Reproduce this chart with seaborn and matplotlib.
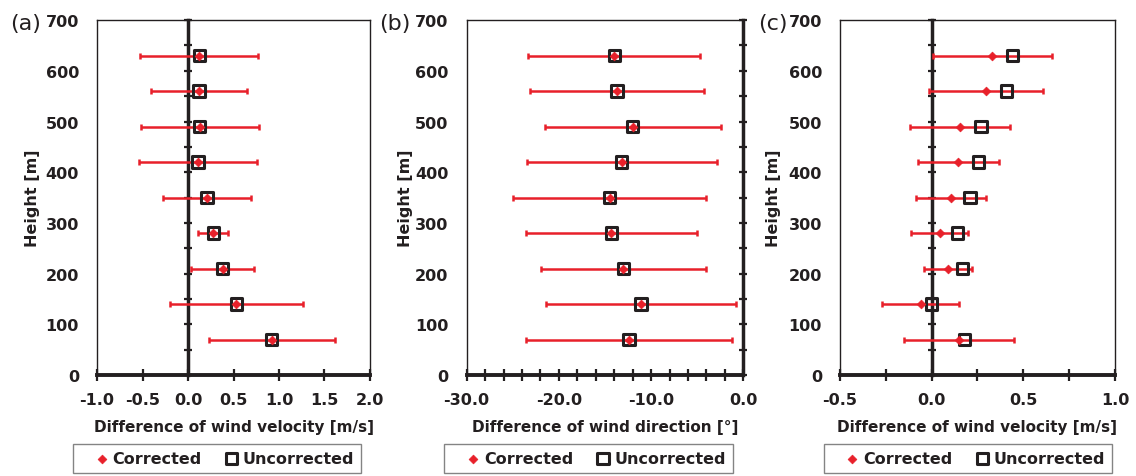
import numpy as np
import matplotlib
matplotlib.use("Agg")
import matplotlib.pyplot as plt
from matplotlib.ticker import MultipleLocator, FormatStrFormatter
import seaborn as sns

heights = [70, 140, 210, 280, 350, 420, 490, 560, 630]

# (a) wind velocity difference [m/s]
corr_a = [0.92, 0.53, 0.38, 0.27, 0.21, 0.11, 0.13, 0.12, 0.12]
uncorr_a = [0.92, 0.53, 0.38, 0.28, 0.21, 0.11, 0.13, 0.12, 0.13]
err_a = [0.69, 0.73, 0.35, 0.165, 0.48, 0.65, 0.65, 0.525, 0.645]

# (b) wind direction difference [deg]
corr_b = [-12.4, -11.1, -13.0, -14.3, -14.5, -13.2, -12.0, -13.7, -14.0]
uncorr_b = [-12.4, -11.1, -13.0, -14.3, -14.5, -13.2, -12.0, -13.7, -14.0]
err_b = [11.15, 10.3, 8.95, 9.3, 10.5, 10.3, 9.55, 9.4, 9.35]

# (c) wind velocity difference [m/s]
corr_c = [0.15, -0.06, 0.09, 0.045, 0.105, 0.145, 0.155, 0.295, 0.33]
uncorr_c = [0.18, 0.0, 0.17, 0.14, 0.21, 0.255, 0.27, 0.41, 0.44]
err_c = [0.30, 0.21, 0.13, 0.155, 0.19, 0.22, 0.275, 0.31, 0.325]

tags = ["(a)", "(b)", "(c)"]
xlabels = ["Difference of wind velocity [m/s]",
           "Difference of wind direction [°]",
           "Difference of wind velocity [m/s]"]
xlims = [(-1.0, 2.0), (-30.0, 0.0), (-0.5, 1.0)]
major_step = [0.5, 10, 0.5]
minor_step = [0.5, 2, 0.25]

INK = "#231f20"
RED = "#e8202a"

sns.set_theme(style="white")
plt.rcParams["font.family"] = ["DejaVu Sans"]
plt.rcParams["font.weight"] = "bold"
plt.rcParams["text.color"] = INK
plt.rcParams["axes.labelcolor"] = INK
plt.rcParams["xtick.color"] = INK
plt.rcParams["ytick.color"] = INK

fig = plt.figure(figsize=(11.36, 4.77), dpi=100)

# axes rectangles in figure fractions
rects = [(0.0854, 0.2117, 0.2403, 0.744),
         (0.4108, 0.2117, 0.2435, 0.744),
         (0.7394, 0.2117, 0.2421, 0.744)]
tag_x = [10, 379, 758]
ylab_x = [-0.209, -0.194, -0.215]
legend_cx = [0.191, 0.518, 0.852]

panels = [(corr_a, uncorr_a, err_a), (corr_b, uncorr_b, err_b), (corr_c, uncorr_c, err_c)]

for i, (corr, uncorr, err) in enumerate(panels):
    ax = fig.add_axes(rects[i])
    ax.errorbar(corr, heights, xerr=err, fmt="none", ecolor=RED, elinewidth=1.8,
                capsize=2.5, capthick=1.8, zorder=2)
    sns.scatterplot(x=uncorr, y=heights, ax=ax, marker="s", s=66, color=INK,
                    facecolor="none", edgecolor=INK, linewidth=2.2, zorder=3,
                    label="Uncorrected")
    sns.scatterplot(x=corr, y=heights, ax=ax, marker="D", s=20, color=RED,
                    edgecolor=RED, linewidth=0.5, zorder=4, label="Corrected")

    ax.set_xlim(*xlims[i])
    ax.set_ylim(0, 700)
    ax.xaxis.set_major_locator(MultipleLocator(major_step[i]))
    ax.xaxis.set_minor_locator(MultipleLocator(minor_step[i]))
    ax.xaxis.set_major_formatter(FormatStrFormatter("%.1f"))
    ax.yaxis.set_major_locator(MultipleLocator(100))
    ax.tick_params(axis="x", which="both", direction="inout", length=8, width=1.6,
                   pad=8, labelsize=11.5, bottom=True)
    ax.tick_params(axis="y", length=0, pad=13, labelsize=11.5, left=True)
    for lab in ax.get_xticklabels() + ax.get_yticklabels():
        lab.set_fontweight("bold")

    for side in ["left", "top", "right"]:
        ax.spines[side].set_linewidth(1.0)
        ax.spines[side].set_color(INK)
    ax.spines["bottom"].set_linewidth(2.8)
    ax.spines["bottom"].set_color(INK)

    # vertical axis crossing at x = 0
    sec = ax.secondary_yaxis(0, transform=ax.transData)
    sec.set_yticks(np.arange(0, 701, 50))
    sec.tick_params(direction="inout", length=6, width=1.6, color=INK,
                    labelleft=False, labelright=False)
    for sp in sec.spines.values():
        sp.set_linewidth(2.5)
        sp.set_color(INK)

    ax.set_xlabel(xlabels[i], fontsize=11, fontweight="bold", labelpad=9)
    ax.set_ylabel("Height [m]", fontsize=11.5, fontweight="bold")
    ax.yaxis.set_label_coords(ylab_x[i], 0.5)

    handles, labels = ax.get_legend_handles_labels()
    order = [labels.index("Corrected"), labels.index("Uncorrected")]
    ax.get_legend().remove()
    fig.legend([handles[k] for k in order], [labels[k] for k in order],
               loc="center", bbox_to_anchor=(legend_cx[i], 0.037), ncol=2,
               frameon=True, fancybox=False, edgecolor="#666666",
               handletextpad=-0.67, columnspacing=0.5, borderpad=0.45,
               handlelength=2.72, prop={"weight": "bold", "size": 11.5})

    fig.text(tag_x[i] / 1136, 1 - 24 / 477, tags[i], fontsize=16,
             fontweight="normal", ha="left", va="center")

fig.savefig("out.png", dpi=100)
